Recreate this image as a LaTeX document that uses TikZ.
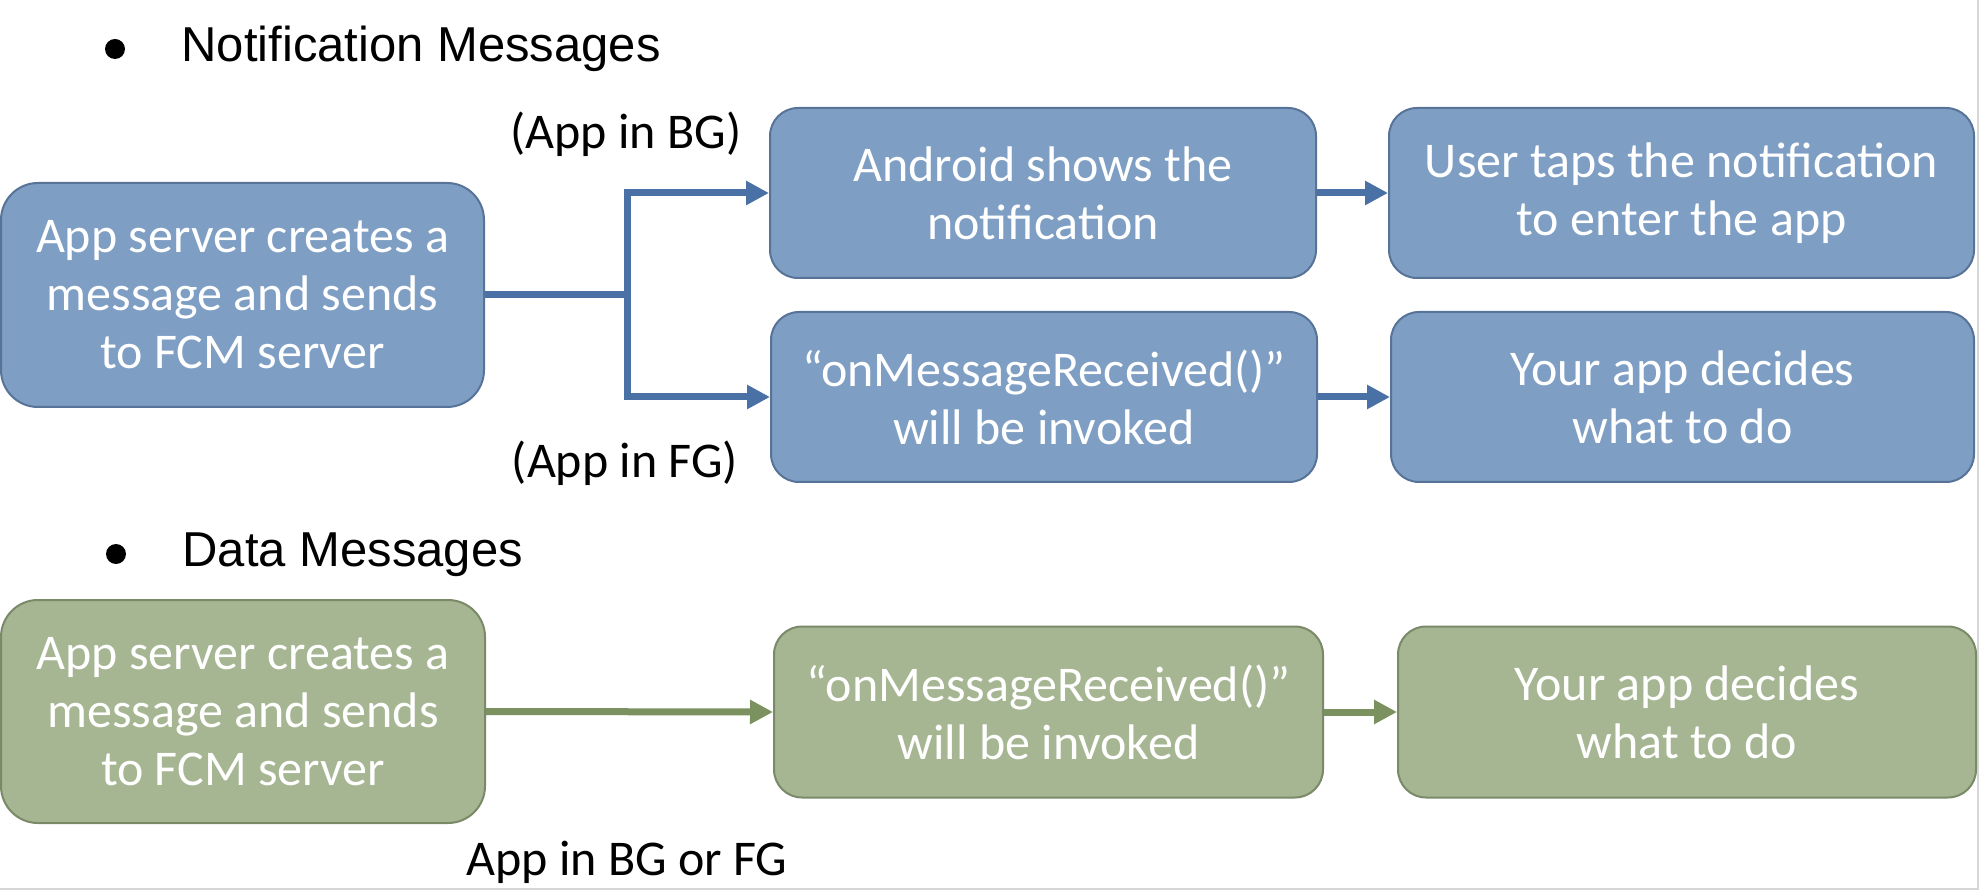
\documentclass[tikz,border=0pt]{standalone}
\usepackage{fontspec}
\usetikzlibrary{arrows.meta}
\newfontfamily\boxfont{Carlito}
\newfontfamily\titlefont{Liberation Sans}
\definecolor{bfill}{RGB}{126,158,196}
\definecolor{bline}{RGB}{88,115,152}
\definecolor{barr}{RGB}{74,113,165}
\definecolor{gfill}{RGB}{166,182,146}
\definecolor{gline}{RGB}{122,137,104}
\definecolor{garr}{RGB}{123,146,96}
\definecolor{framegray}{RGB}{214,214,214}
\begin{document}
\begin{tikzpicture}[x=0.5pt,y=-0.5pt,
  boxbase/.style={rectangle, inner sep=0pt, line width=1pt, align=center,
    text=white, font=\boxfont\fontsize{25pt}{29pt}\selectfont},
  bluebox/.style={boxbase, draw=bline, fill=bfill},
  greenbox/.style={boxbase, draw=gline, fill=gfill},
  bigbox/.style={minimum width=#1, minimum height=112pt, rounded corners=18.5pt},
  smallbox/.style={minimum width=#1, minimum height=85pt, rounded corners=14pt},
  barrow/.style={draw=barr, line width=3.5pt, -{Triangle[length=11.5pt,width=11.5pt]}},
  garrow/.style={draw=garr, line width=3.5pt, -{Triangle[length=11.5pt,width=11.5pt]}},
  lab/.style={font=\boxfont\fontsize{25pt}{29pt}\selectfont, text=black, inner sep=0pt},
  titletext/.style={font=\titlefont\fontsize{24.5pt}{29pt}\selectfont, text=black, inner sep=0pt},
  bulletdot/.style={circle, fill=black, minimum size=10pt, inner sep=0pt}
]
\useasboundingbox (0,0) rectangle (1980,892);
\fill[white] (0,0) rectangle (1980,892);

% frame lines of the screenshot
\draw[framegray, line width=1pt] (1978,0) -- (1978,889) -- (0,889);

% Notification messages
\node[bulletdot] (b1) at (115,49) {};
\node[titletext, anchor=base west] (t1) at (181,62) {Notification Messages};

\node[bluebox, bigbox=241.5pt] (A) at (242.5,295) {App server creates a\\message and sends\\to FCM server};
\node[bluebox, smallbox=273pt] (B) at (1043,193) {Android shows the\\notification};
\node[bluebox, smallbox=292.5pt] (C) at (1681.5,193) {User taps the notification\\to enter the app};
\node[bluebox, smallbox=273pt] (D) at (1044,397) {“onMessageReceived()”\\will be invoked};
\node[bluebox, smallbox=291.5pt] (E) at (1682.5,397) {Your app decides\\what to do};

\coordinate (J) at (627.5,295);
\draw[barrow] (A.east) -- (J) |- (B.west);
\draw[barrow] (A.east) -- (J) |- (D.west);
\draw[barrow] (B.east) -- (C.west);
\draw[barrow] (D.east) -- (E.west);

\node[lab, anchor=base] (bg) at (626,149) {(App in BG)};
\node[lab, anchor=base] (fg) at (625,478) {(App in FG)};

% Data messages
\node[bulletdot] (b2) at (116,554) {};
\node[titletext, anchor=base west] (t2) at (182,567) {Data Messages};

\node[greenbox, bigbox=242pt, minimum height=111.5pt] (GA) at (243,711.5) {App server creates a\\message and sends\\to FCM server};
\node[greenbox, smallbox=274.5pt, minimum height=85.5pt] (GB) at (1048.5,712) {“onMessageReceived()”\\will be invoked};
\node[greenbox, smallbox=289pt, minimum height=85.5pt] (GC) at (1687,712) {Your app decides\\what to do};

\draw[garrow] (GA.east) -- (GB.west);
\draw[garrow] (GB.east) -- (GC.west);

\node[lab, anchor=base] (bgfg) at (627,875) {App in BG or FG};
\end{tikzpicture}
\end{document}
